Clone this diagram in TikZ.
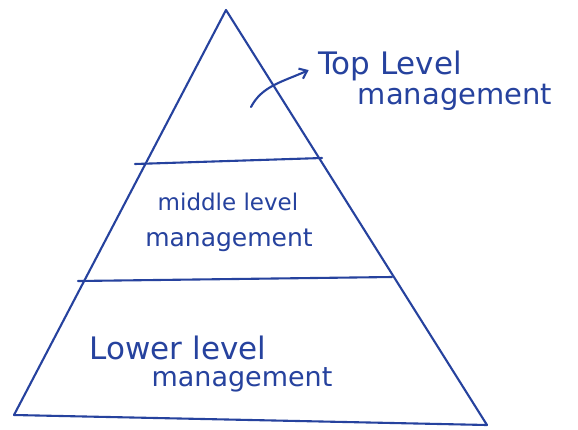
\documentclass[tikz,border=0pt]{standalone}
\usepackage{fontspec}
\setmainfont{DejaVu Sans}
\usetikzlibrary{arrows.meta}
\definecolor{ink}{RGB}{38,66,158}
\begin{document}
\begin{tikzpicture}[x=1pt,y=-1pt,
  ink line/.style={draw=ink,line width=2.1pt,line cap=round,line join=round},
  lbl/.style={text=ink,inner sep=0pt}]
\useasboundingbox[fill=white] (0,0) rectangle (578,429);
\coordinate (apex) at (226,10);
\coordinate (bl) at (14,415);
\coordinate (br) at (487,425);
\coordinate (l1a) at (135,164);
\coordinate (l1b) at (322,158);
\coordinate (l2a) at (78,281);
\coordinate (l2b) at (392,277);
\draw[ink line] (bl) -- (apex) -- (br) -- cycle;
\draw[ink line] (l1a) -- (l1b);
\draw[ink line] (l2a) -- (l2b);
\node[lbl,font=\fontsize{31}{34}\selectfont] (top1) at (390,66) {Top Level};
\node[lbl,font=\fontsize{29}{32}\selectfont] (top2) at (455,97) {management};
\node[lbl,font=\fontsize{23}{26}\selectfont] (mid1) at (228,202) {middle level};
\node[lbl,font=\fontsize{25}{28}\selectfont] (mid2) at (229,240) {management};
\node[lbl,font=\fontsize{31}{34}\selectfont] (low1) at (178,348) {Lower level};
\node[lbl,font=\fontsize{27}{30}\selectfont] (low2) at (242,380) {management};
\coordinate (arrs) at (251,107);
\draw[ink line,shorten >=10pt,-{Straight Barb[length=7pt,width=11pt]}] (arrs) .. controls (262,86) and (282,82) .. (top1.west);
\end{tikzpicture}
\end{document}
